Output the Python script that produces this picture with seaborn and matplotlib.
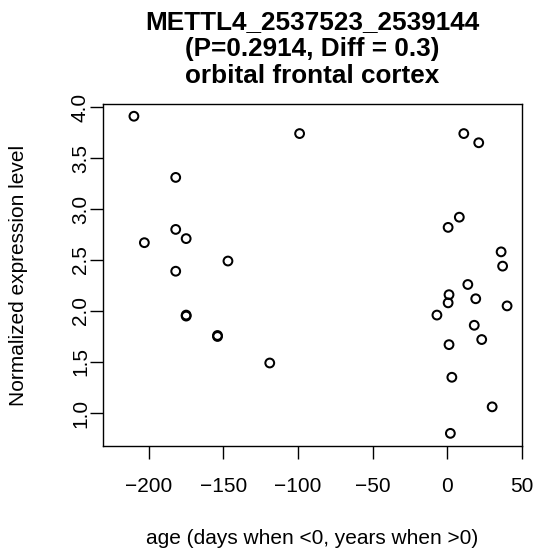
import matplotlib
matplotlib.use('Agg')
import matplotlib.pyplot as plt
import seaborn as sns
import pandas as pd

# values
age = [-210, -99, -182, -182, -203, -175, -147, -182, -175, -175, -154, -154, -119,
       11, 21, 8, 0.5, 36, 37, 13.7, 1.1, 19, 0.5, 40, -7, 18, 23, 1.1, 3, 30, 2]
expr = [3.91, 3.74, 3.31, 2.80, 2.67, 2.71, 2.49, 2.39, 1.95, 1.96, 1.76, 1.75, 1.49,
        3.74, 3.65, 2.92, 2.82, 2.58, 2.44, 2.26, 2.16, 2.12, 2.08, 2.05, 1.96, 1.86,
        1.72, 1.67, 1.35, 1.06, 0.80]
x_ticks = [-200, -150, -100, -50, 0, 50]
y_ticks = [1.0, 1.5, 2.0, 2.5, 3.0, 3.5, 4.0]

df = pd.DataFrame({'age': age, 'expr': expr})

sns.set_style('white')
plt.rcParams['font.family'] = ['Liberation Sans', 'DejaVu Sans']
plt.rcParams['text.color'] = 'black'
plt.rcParams['axes.labelcolor'] = 'black'
plt.rcParams['xtick.color'] = 'black'
plt.rcParams['ytick.color'] = 'black'

fig = plt.figure(figsize=(5.36, 5.55), dpi=100)
ax = fig.add_axes([0.1922, 0.1964, 0.7817, 0.6162])

sns.scatterplot(data=df, x='age', y='expr', ax=ax, s=40, marker='o',
                facecolor='none', edgecolor='black', linewidth=1.45)

ax.set_xlim(-230.7, 50)
ax.set_ylim(0.676, 4.03)
ax.set_xticks(x_ticks)
ax.set_yticks(y_ticks)
ax.set_yticklabels([f'{v:.1f}' for v in y_ticks], rotation=90, va='center')

for s in ax.spines.values():
    s.set_visible(True)
    s.set_color('black')
    s.set_linewidth(1.0)

ax.tick_params(axis='both', direction='out', length=9.4, width=1.0,
               labelsize=15, left=True, bottom=True)
ax.tick_params(axis='x', pad=13)
ax.tick_params(axis='y', pad=0)

ax.set_xlabel('age (days when <0, years when >0)', fontsize=15, labelpad=24)
ax.set_ylabel('Normalized expression level', fontsize=15, labelpad=31)
ax.set_title('METTL4_2537523_2539144\n(P=0.2914, Diff = 0.3)\norbital frontal cortex',
             fontsize=18.8, fontweight='bold', linespacing=1.15, pad=15)

fig.savefig('out.png', dpi=100)
